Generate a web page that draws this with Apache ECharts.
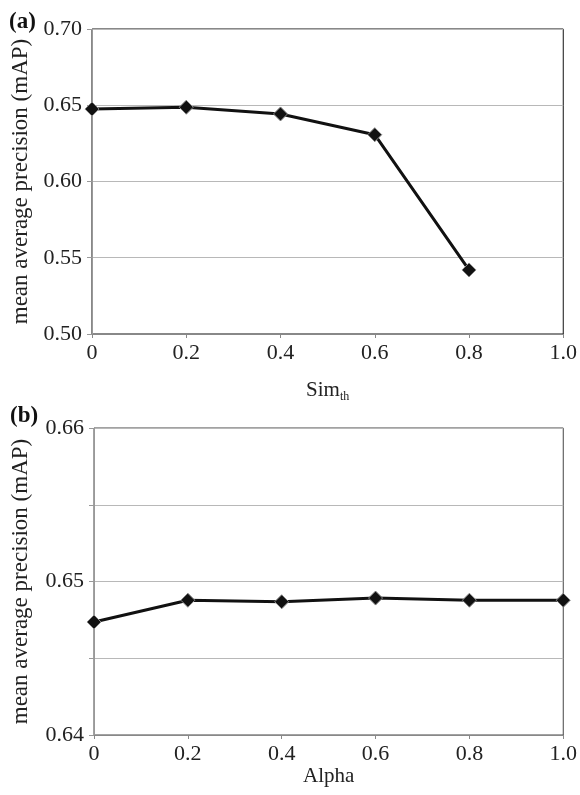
<!DOCTYPE html>
<html>
<head>
<meta charset="utf-8">
<script src="https://cdn.jsdelivr.net/npm/echarts@6/dist/echarts.min.js"></script>
<style>
  html, body { margin: 0; padding: 0; background: #fff; }
  #chart { width: 580px; height: 795px; }
</style>
</head>
<body>
<div id="chart"></div>
<script>
// panel (a): Sim_th sweep
var simX = [0, 0.2, 0.4, 0.6, 0.8];
var simMap = [0.6475, 0.6487, 0.6443, 0.6307, 0.542];

// panel (b): Alpha sweep
var alphaX = [0, 0.2, 0.4, 0.6, 0.8, 1.0];
var alphaMap = [0.64736, 0.64878, 0.64868, 0.64892, 0.64878, 0.64878];

var font = 'Liberation Serif';

var chart = echarts.init(document.getElementById('chart'));

function xAxisCfg(gridIndex, name, gap) {
    return {
        type: 'value', gridIndex: gridIndex, min: 0, max: 1, interval: 0.2,
        name: name, nameLocation: 'middle', nameGap: gap,
        nameTextStyle: {
            color: '#222', fontFamily: font, fontSize: 21,
            rich: {
                m: { fontFamily: font, fontSize: 21, color: '#222' },
                s: { fontFamily: font, fontSize: 12, color: '#222', padding: [14, 0, 0, 0] }
            }
        },
        axisLine: { show: true, lineStyle: { color: '#888', width: 1 } },
        axisTick: { show: true, length: 4, lineStyle: { color: '#888' } },
        splitLine: { show: false },
        axisLabel: {
            color: '#222', fontFamily: font, fontSize: 22, margin: 8,
            formatter: function (v) { return v === 0 ? '0' : v.toFixed(1); }
        }
    };
}

function yAxisCfg(gridIndex, min, max, interval, gap, labelFn) {
    return {
        type: 'value', gridIndex: gridIndex, min: min, max: max, interval: interval,
        name: 'mean average precision (mAP)', nameLocation: 'middle', nameGap: gap,
        nameTextStyle: { color: '#222', fontFamily: font, fontSize: 23 },
        axisLine: { show: true, lineStyle: { color: '#999', width: 1 } },
        axisTick: { show: true, length: 5, lineStyle: { color: '#999' } },
        splitLine: { show: true, lineStyle: { color: '#b8b8b8', width: 1 } },
        axisLabel: { color: '#222', fontFamily: font, fontSize: 22, margin: 10, formatter: labelFn }
    };
}

var option = {
    animation: false,
    backgroundColor: '#fff',
    title: [
        { text: '(a)', left: 4, top: 6, textStyle: { fontFamily: font, fontWeight: 'bold', fontSize: 23, color: '#111' } },
        { text: '(b)', left: 5, top: 400, textStyle: { fontFamily: font, fontWeight: 'bold', fontSize: 23, color: '#111' } }
    ],
    grid: [
        { left: 92, top: 29, width: 473, height: 305, show: true, borderColor: '#111', borderWidth: 1 },
        { left: 94, top: 428, width: 473, height: 307, show: true, borderColor: '#444', borderWidth: 1 }
    ],
    xAxis: [
        xAxisCfg(0, '{m|Sim}{s|th}', 43),
        xAxisCfg(1, 'Alpha', 23)
    ],
    yAxis: [
        yAxisCfg(0, 0.5, 0.7, 0.05, 60, function (v) { return v.toFixed(2); }),
        yAxisCfg(1, 0.64, 0.66, 0.005, 62, function (v) {
            var r = Math.round(v * 100);
            return Math.abs(v * 100 - r) < 1e-6 ? (r / 100).toFixed(2) : '';
        })
    ],
    series: [
        {
            type: 'line', xAxisIndex: 0, yAxisIndex: 0,
            data: simX.map(function (x, i) { return [x, simMap[i]]; }),
            symbol: 'diamond', symbolSize: 14,
            lineStyle: { color: '#111', width: 3 },
            itemStyle: { color: '#111', borderColor: '#888', borderWidth: 1 }
        },
        {
            type: 'line', xAxisIndex: 1, yAxisIndex: 1,
            data: alphaX.map(function (x, i) { return [x, alphaMap[i]]; }),
            symbol: 'diamond', symbolSize: 14,
            lineStyle: { color: '#111', width: 3 },
            itemStyle: { color: '#111', borderColor: '#888', borderWidth: 1 }
        }
    ]
};

option && chart.setOption(option);
</script>
</body>
</html>
